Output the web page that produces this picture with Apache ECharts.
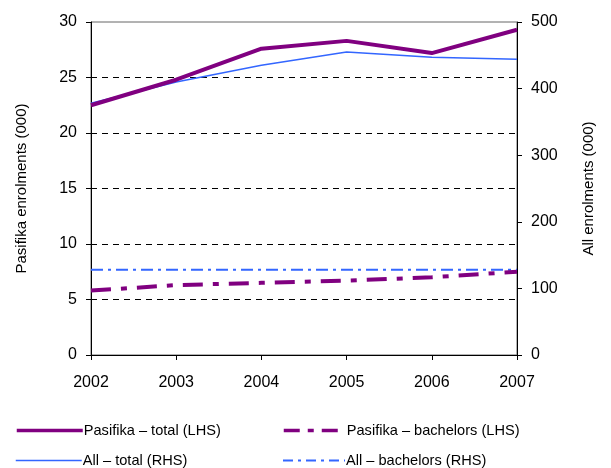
<!DOCTYPE html>
<html><head><meta charset="utf-8">
<script src="https://cdn.jsdelivr.net/npm/echarts@6/dist/echarts.min.js"></script>
<style>html,body{margin:0;padding:0;background:#fff}#c{width:611px;height:468px}</style>
</head><body><div id="c"></div>
<script>
const years = ['2002','2003','2004','2005','2006','2007'];
const pasifikaTotal = [22.5, 24.8, 27.6, 28.3, 27.2, 29.3];
const pasifikaBachelors = [5.8, 6.3, 6.5, 6.7, 7.0, 7.5];
const allTotal = [378, 410, 435, 455, 447, 444];
const allBachelors = [128, 128, 128, 128, 128, 128];
const seriesNames = ['Pasifika – total (LHS)', 'All – total (RHS)', 'Pasifika – bachelors (LHS)', 'All – bachelors (RHS)'];
const FONT = 'Liberation Sans, Arial, sans-serif';
const PURPLE = '#800080', BLUE = '#3366FF';
const chart = echarts.init(document.getElementById('c'));
const axisTxt = {fontFamily: FONT, fontSize: 16, color: '#000'};
function lg(name, left, top, w, lineStyle) {
  return {orient: 'horizontal', left: left, top: top, itemWidth: w, itemHeight: 14, itemGap: 0,
    itemStyle: {opacity: 0, borderWidth: 0},
    lineStyle: lineStyle,
    textStyle: {fontFamily: FONT, fontSize: 14.6, color: '#000', padding: [0,0,0,-4]},
    data: [name]};
}
chart.setOption({
  animation: false,
  backgroundColor: '#fff',
  grid: {left: 91, right: 94, top: 22, bottom: 113, show: true, borderColor: '#666', borderWidth: 1, backgroundColor: 'transparent'},
  xAxis: {
    type: 'category', data: years, boundaryGap: false,
    axisLine: {lineStyle: {color: '#000', width: 1}},
    axisTick: {show: true, length: 5, lineStyle: {color: '#000'}},
    axisLabel: Object.assign({margin: 20}, axisTxt),
    splitLine: {show: false}
  },
  yAxis: [
    {type: 'value', min: 0, max: 30, interval: 5, position: 'left',
     name: 'Pasifika enrolments (000)', nameLocation: 'middle', nameRotate: 90, nameGap: 62,
     nameTextStyle: {fontFamily: FONT, fontSize: 15, color: '#000'},
     axisLine: {show: true, lineStyle: {color: '#000'}},
     axisTick: {show: true, length: 5, lineStyle: {color: '#000'}},
     axisLabel: Object.assign({margin: 14}, axisTxt),
     splitLine: {show: true, lineStyle: {color: ['rgba(0,0,0,0)','#000','#000','#000','#000','#000','rgba(0,0,0,0)'], type: [6, 5], width: 1}}},
    {type: 'value', min: 0, max: 500, interval: 100, position: 'right',
     name: 'All enrolments (000)', nameLocation: 'middle', nameRotate: 90, nameGap: 64,
     nameTextStyle: {fontFamily: FONT, fontSize: 15, color: '#000'},
     axisLine: {show: true, lineStyle: {color: '#000'}},
     axisTick: {show: true, length: 5, lineStyle: {color: '#000'}},
     axisLabel: Object.assign({margin: 14}, axisTxt),
     splitLine: {show: false}}
  ],
  legend: [
    lg(seriesNames[0], 10, 418, 66, {width: 3.5}),
    lg(seriesNames[1], 10, 448, 66, {width: 1.5}),
    lg(seriesNames[2], 277, 418, 62, {width: 3.5, type: [16, 8, 6, 8]}),
    lg(seriesNames[3], 277, 448, 62, {width: 2, type: [10, 5, 3, 5]})
  ],
  series: [
    {name: seriesNames[0], type: 'line', yAxisIndex: 0, data: pasifikaTotal,
     symbol: 'none', color: PURPLE, lineStyle: {color: PURPLE, width: 4}, z: 4},
    {name: seriesNames[1], type: 'line', yAxisIndex: 1, data: allTotal,
     symbol: 'none', color: BLUE, lineStyle: {color: BLUE, width: 1.5}, z: 3},
    {name: seriesNames[2], type: 'line', yAxisIndex: 0, data: pasifikaBachelors,
     symbol: 'none', color: PURPLE, lineStyle: {color: PURPLE, width: 4, type: [20, 10, 6, 10]}, z: 4},
    {name: seriesNames[3], type: 'line', yAxisIndex: 1, data: allBachelors,
     symbol: 'none', color: BLUE, lineStyle: {color: BLUE, width: 2, type: [12, 5, 3, 5]}, z: 3}
  ]
});
</script></body></html>
